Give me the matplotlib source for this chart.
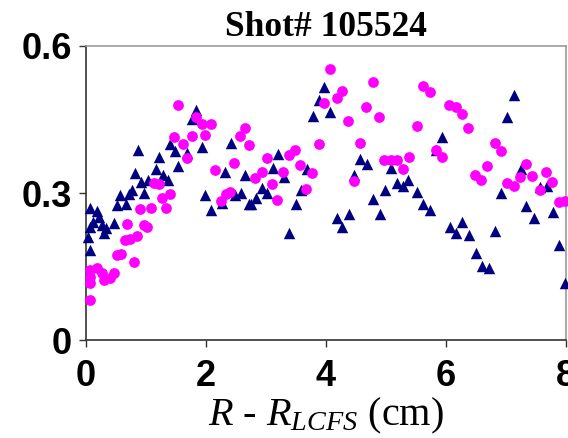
import matplotlib
matplotlib.use("Agg")
import matplotlib.pyplot as plt

# Треугольники (синяя серия)
TRI_X = [0.04, 0.06, 0.07, 0.07, 0.12, 0.18, 0.22, 0.26, 0.30, 0.34, 0.46, 0.51, 0.57, 0.67,
         0.72, 0.76, 0.81, 0.86, 0.91, 0.97, 1.04, 1.17, 1.22, 1.29, 1.36, 1.40, 1.48, 1.54,
         1.69, 1.76, 1.83, 1.93, 1.98, 2.08, 2.26, 2.32, 2.41, 2.48, 2.58, 2.65, 2.71, 2.75,
         2.83, 2.93, 3.02, 3.11, 3.20, 3.30, 3.39, 3.50, 3.58, 3.68, 3.78, 3.88, 3.97, 4.07,
         4.19, 4.27, 4.38, 4.47, 4.57, 4.68, 4.79, 4.90, 4.98, 5.09, 5.18, 5.29, 5.37, 5.52,
         5.62, 5.73, 5.83, 5.94, 6.06, 6.17, 6.27, 6.38, 6.50, 6.60, 6.71, 6.82, 6.92, 7.02,
         7.14, 7.25, 7.34, 7.46, 7.57, 7.69, 7.78, 7.89, 7.98]
TRI_Y = [0.211, 0.184, 0.230, 0.270, 0.241, 0.264, 0.252, 0.235, 0.219, 0.228, 0.239, 0.276,
         0.296, 0.278, 0.298, 0.306, 0.340, 0.388, 0.323, 0.299, 0.327, 0.350, 0.374, 0.337,
         0.327, 0.401, 0.386, 0.355, 0.381, 0.450, 0.469, 0.393, 0.296, 0.265, 0.279, 0.343,
         0.403, 0.296, 0.301, 0.337, 0.277, 0.278, 0.290, 0.311, 0.299, 0.352, 0.380, 0.333,
         0.218, 0.278, 0.306, 0.350, 0.457, 0.490, 0.517, 0.466, 0.250, 0.231, 0.257, 0.337,
         0.369, 0.359, 0.288, 0.257, 0.306, 0.352, 0.321, 0.315, 0.327, 0.303, 0.278, 0.265,
         0.388, 0.415, 0.231, 0.219, 0.240, 0.214, 0.177, 0.151, 0.146, 0.223, 0.301, 0.456,
         0.500, 0.348, 0.273, 0.250, 0.313, 0.315, 0.262, 0.194, 0.116]

# Кружки (розовая серия)
CIRC_X = [0.06, 0.07, 0.07, 0.06, 0.18, 0.26, 0.30, 0.40, 0.46, 0.51, 0.58, 0.65, 0.69, 0.74,
          0.80, 0.85, 0.90, 0.96, 1.01, 1.08, 1.14, 1.22, 1.27, 1.34, 1.40, 1.47, 1.53, 1.62,
          1.68, 1.77, 1.83, 1.93, 1.98, 2.08, 2.15, 2.25, 2.33, 2.40, 2.47, 2.57, 2.65, 2.71,
          2.82, 2.93, 3.01, 3.10, 3.19, 3.29, 3.38, 3.49, 3.57, 3.66, 3.77, 3.88, 3.97, 4.07,
          4.18, 4.26, 4.36, 4.46, 4.56, 4.67, 4.78, 4.89, 4.97, 5.09, 5.19, 5.29, 5.38, 5.51,
          5.62, 5.73, 5.83, 5.94, 6.05, 6.17, 6.27, 6.37, 6.48, 6.58, 6.69, 6.81, 6.91, 7.01,
          7.13, 7.23, 7.34, 7.44, 7.56, 7.67, 7.77, 7.88, 7.99]
CIRC_Y = [0.082, 0.116, 0.129, 0.143, 0.146, 0.136, 0.122, 0.126, 0.137, 0.173, 0.175, 0.205,
          0.237, 0.207, 0.159, 0.213, 0.267, 0.234, 0.231, 0.270, 0.321, 0.318, 0.290, 0.270,
          0.298, 0.414, 0.480, 0.399, 0.371, 0.416, 0.456, 0.440, 0.418, 0.440, 0.347, 0.284,
          0.297, 0.303, 0.362, 0.416, 0.432, 0.398, 0.330, 0.342, 0.371, 0.318, 0.286, 0.342,
          0.378, 0.388, 0.357, 0.309, 0.340, 0.399, 0.484, 0.553, 0.493, 0.509, 0.446, 0.324,
          0.403, 0.476, 0.527, 0.456, 0.367, 0.367, 0.367, 0.350, 0.373, 0.437, 0.518, 0.507,
          0.388, 0.373, 0.480, 0.476, 0.461, 0.432, 0.337, 0.327, 0.355, 0.403, 0.386, 0.321,
          0.314, 0.333, 0.359, 0.335, 0.306, 0.342, 0.323, 0.282, 0.284]

X_TICKS = [0, 2, 4, 6, 8]
Y_TICKS = [0, 0.3, 0.6]
Y_LABELS = ["0", "0.3", "0.6"]

plt.rcParams['mathtext.fontset'] = 'custom'
plt.rcParams['mathtext.rm'] = 'Liberation Serif'
plt.rcParams['mathtext.it'] = 'Liberation Serif:italic'

fig = plt.figure(figsize=(5.68, 4.38), dpi=100)
ax = fig.add_axes([0.1514, 0.2237, 0.845, 0.6713])

ax.scatter(TRI_X, TRI_Y, marker='^', s=68, color='#000080', linewidths=0, clip_on=False, zorder=3)
ax.scatter(CIRC_X, CIRC_Y, marker='o', s=60, color='#FF00FF', linewidths=0, clip_on=False, zorder=4)

ax.set_xlim(0, 8)
ax.set_ylim(0, 0.6)
ax.set_xticks(X_TICKS)
ax.set_yticks(Y_TICKS)
ax.set_yticklabels(Y_LABELS)

for lbl in ax.get_xticklabels() + ax.get_yticklabels():
    lbl.set_family('Liberation Sans')
    lbl.set_fontweight('bold')
    lbl.set_fontsize(26)

ax.tick_params(direction='out', length=5, width=1, color='#333333')
ax.tick_params(axis='y', pad=5)
ax.tick_params(axis='x', pad=9)

ax.spines['left'].set_color('#333333')
ax.spines['bottom'].set_color('#333333')
ax.spines['top'].set_color('#999999')
ax.spines['right'].set_color('#999999')
for s in ax.spines.values():
    s.set_linewidth(1.2)

ax.set_title("Shot# 105524", family='Liberation Serif', fontweight='bold', fontsize=25.5, pad=7)
ax.set_xlabel("$R$ - $R_{LCFS}$ (cm)", family='Liberation Serif', fontsize=29, labelpad=1)

plt.savefig("out.png", dpi=100)
